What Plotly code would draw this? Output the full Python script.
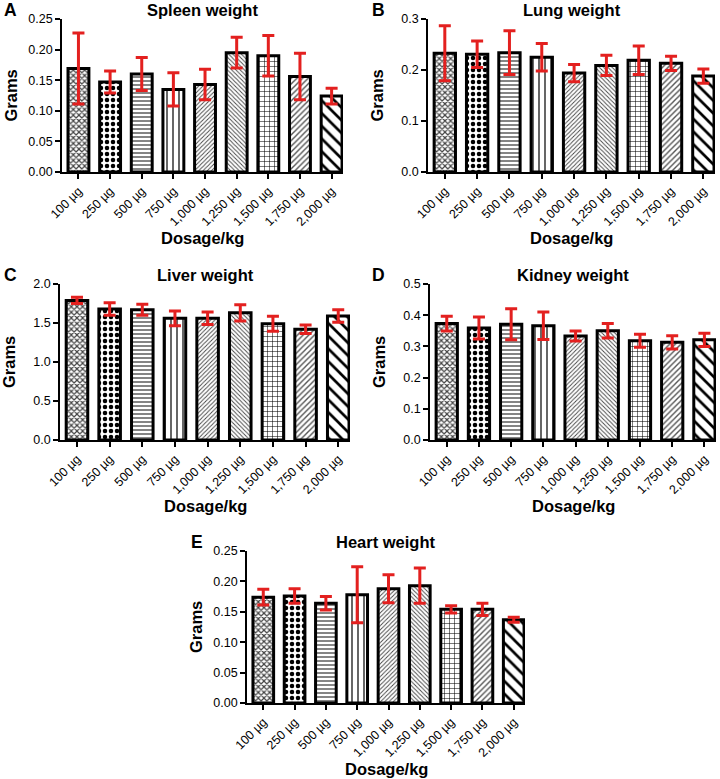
import plotly.graph_objects as go

doses = ["100 µg", "250 µg", "500 µg", "750 µg", "1,000 µg", "1,250 µg", "1,500 µg", "1,750 µg", "2,000 µg"]

spleen_mean = [0.169, 0.147, 0.160, 0.135, 0.143, 0.195, 0.190, 0.156, 0.124]
spleen_err = [0.058, 0.018, 0.027, 0.027, 0.025, 0.025, 0.033, 0.038, 0.013]

lung_mean = [0.233, 0.231, 0.234, 0.225, 0.194, 0.209, 0.219, 0.213, 0.188]
lung_err = [0.054, 0.026, 0.043, 0.027, 0.017, 0.020, 0.028, 0.014, 0.014]

liver_mean = [1.79, 1.68, 1.67, 1.56, 1.56, 1.63, 1.49, 1.42, 1.59]
liver_err = [0.04, 0.08, 0.07, 0.095, 0.08, 0.105, 0.095, 0.055, 0.08]

kidney_mean = [0.373, 0.359, 0.371, 0.366, 0.333, 0.350, 0.318, 0.313, 0.321]
kidney_err = [0.024, 0.035, 0.050, 0.044, 0.016, 0.023, 0.021, 0.021, 0.021]

heart_mean = [0.174, 0.176, 0.164, 0.178, 0.188, 0.193, 0.154, 0.154, 0.137]
heart_err = [0.013, 0.012, 0.011, 0.046, 0.023, 0.029, 0.006, 0.010, 0.004]

titles = ["Spleen weight", "Lung weight", "Liver weight", "Kidney weight", "Heart weight"]
letters = ["A", "B", "C", "D", "E"]
y_max = [0.25, 0.3, 2.0, 0.5, 0.25]
y_dtick = [0.05, 0.1, 0.5, 0.1, 0.05]
y_fmt = [".2f", ".1f", ".1f", ".1f", ".2f"]

W, H = 720, 779
FONT = "Liberation Sans, Arial, sans-serif"

# pixel boxes in window coords: x0, x1, ytop, ybottom, letter x
boxes = [
    (62, 343, 19, 172, 2),
    (428, 715, 19, 172, 370),
    (60, 350, 284, 440, 2),
    (430, 716, 284, 440, 370),
    (247, 525, 551, 703, 189),
]


def px(x):
    return x / W


def py(y):
    return 1 - y / H


shapes = ["x", ".", "-", "|", "/", "\\", "+", "/", "\\"]
sizes = [4, 6, 4, 6, 3, 3, 5, 4, 9]
solid = [0.5, 0.45, 0.3, 0.2, 0.3, 0.3, 0.2, 0.35, 0.3]
fg = ["#444", "#000", "#333", "#000", "#444", "#444", "#000", "#555", "#000"]

data = [(spleen_mean, spleen_err), (lung_mean, lung_err), (liver_mean, liver_err),
        (kidney_mean, kidney_err), (heart_mean, heart_err)]

fig = go.Figure()
annotations = []
xs = list(range(len(doses)))

for i, ((m, e), box) in enumerate(zip(data, boxes)):
    x0, x1, yt, yb, lx = box
    suffix = "" if i == 0 else str(i + 1)
    fig.add_trace(go.Bar(
        x=xs, y=m, width=0.66,
        xaxis="x" + suffix, yaxis="y" + suffix,
        marker=dict(
            color="white",
            line=dict(color="black", width=3),
            pattern=dict(shape=shapes, size=sizes, solidity=solid,
                         fgcolor=fg, bgcolor="white", fillmode="replace"),
        ),
        error_y=dict(type="data", array=e, color="#e3201f", thickness=3, width=6),
        showlegend=False,
    ))
    xd = [px(x0), px(x1)]
    yd = [py(yb), py(yt)]
    left = -0.5 - (x0 - 62) / 31.7 if i != 2 else -0.57
    fig.update_layout(**{
        "xaxis" + suffix: dict(
            domain=xd, range=[-0.52, 8.36], anchor="y" + suffix, automargin=False,
            tickvals=xs, ticktext=doses, tickangle=-45,
            showline=True, linecolor="black", linewidth=1.8,
            ticks="outside", ticklen=5, tickwidth=1.5, tickcolor="black",
            showgrid=False, zeroline=False,
            tickfont=dict(family=FONT, size=12.5, color="black"),
        ),
        "yaxis" + suffix: dict(
            domain=yd, range=[0, y_max[i]], anchor="x" + suffix, automargin=False,
            dtick=y_dtick[i], tickformat=y_fmt[i],
            showline=True, linecolor="black", linewidth=1.8,
            ticks="outside", ticklen=5, tickwidth=1.5, tickcolor="black",
            showgrid=False, zeroline=False,
            tickfont=dict(family=FONT, size=12.5, color="black"),
        ),
    })
    cx = (x0 + x1) / 2
    annotations.append(dict(text="<b>" + titles[i] + "</b>", x=px(cx), y=py(yt - 9),
                            xref="paper", yref="paper", showarrow=False, xanchor="center",
                            yanchor="middle", font=dict(family=FONT, size=16.5, color="black")))
    annotations.append(dict(text="<b>" + letters[i] + "</b>", x=px(lx), y=py(yt - 9),
                            xref="paper", yref="paper", showarrow=False, xanchor="left",
                            yanchor="middle", font=dict(family=FONT, size=17.5, color="black")))
    annotations.append(dict(text="<b>Grams</b>", x=px(x0 - 51), y=py((yt + yb) / 2),
                            xref="paper", yref="paper", showarrow=False, textangle=-90,
                            xanchor="center", yanchor="middle",
                            font=dict(family=FONT, size=16.5, color="black")))
    annotations.append(dict(text="<b>Dosage/kg</b>", x=px(cx), y=py(yb + 66),
                            xref="paper", yref="paper", showarrow=False,
                            xanchor="center", yanchor="middle",
                            font=dict(family=FONT, size=16.5, color="black")))

fig.update_layout(
    template="none",
    width=W, height=H, margin=dict(l=0, r=0, t=0, b=0, autoexpand=False),
    paper_bgcolor="white", plot_bgcolor="white",
    annotations=annotations, bargap=0.3,
    font=dict(family=FONT, color="black"),
)

fig.write_html(
    "out.html",
    config={"displayModeBar": False},
    post_script="document.body.style.margin='0';document.body.style.padding='0';"
                "document.documentElement.style.overflow='hidden';window.scrollTo(0,0);",
)
